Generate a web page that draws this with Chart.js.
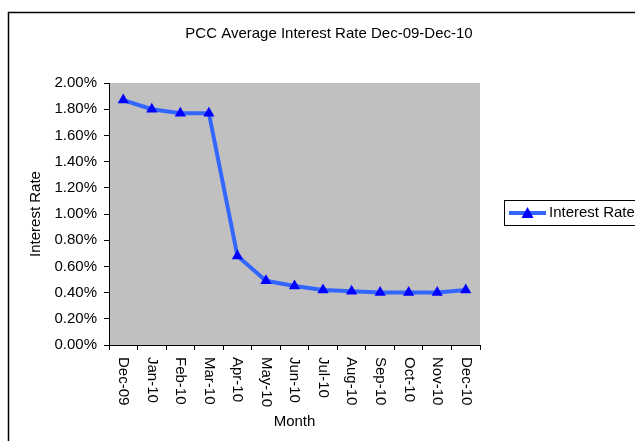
<!DOCTYPE html>
<html>
<head>
<meta charset="utf-8">
<script src="https://cdn.jsdelivr.net/npm/chart.js@4.4.0/dist/chart.umd.min.js"></script>
<style>
  html, body { margin: 0; padding: 0; background: #fff; overflow: hidden; }
  #wrap { width: 635px; height: 441px; }
</style>
</head>
<body>
<div id="wrap"><canvas id="rate" width="635" height="441"></canvas></div>
<script>
var months = ['Dec-09', 'Jan-10', 'Feb-10', 'Mar-10', 'Apr-10', 'May-10', 'Jun-10',
              'Jul-10', 'Aug-10', 'Sep-10', 'Oct-10', 'Nov-10', 'Dec-10'];
var rates = [1.87, 1.80, 1.77, 1.77, 0.68, 0.49, 0.45, 0.42, 0.41, 0.40, 0.40, 0.40, 0.42];
var yTicks = [0, 0.2, 0.4, 0.6, 0.8, 1.0, 1.2, 1.4, 1.6, 1.8, 2.0];

var font = 'Liberation Sans, Arial, sans-serif';
Chart.defaults.font.family = font;
Chart.defaults.font.size = 15;
Chart.defaults.color = '#000';

// frame, title, rotated month labels and legend box
var extras = {
    id: 'extras',
    beforeDraw: function (chart) {
        var c = chart.ctx, a = chart.chartArea;
        c.save();
        c.fillStyle = '#c0c0c0';
        c.fillRect(a.left, a.top, a.right - a.left, a.bottom - a.top);
        c.restore();
    },
    afterDraw: function (chart) {
        var c = chart.ctx;
        c.save();
        c.strokeStyle = '#000';
        c.lineWidth = 1.5;
        c.strokeRect(8.5, 12.5, 700, 500);

        c.fillStyle = '#000';
        c.font = '15px ' + font;
        c.textAlign = 'center';
        c.textBaseline = 'middle';
        c.fillText('PCC Average Interest Rate Dec-09-Dec-10', 329, 34);

        var x = chart.scales.x;
        c.textAlign = 'left';
        months.forEach(function (m, i) {
            c.save();
            c.translate(x.getPixelForValue(i), 357);
            c.rotate(Math.PI / 2);
            c.fillText(m, 0, 0);
            c.restore();
        });

        c.lineWidth = 1;
        c.strokeRect(504.5, 200.5, 200, 25);
        c.strokeStyle = '#3366ff';
        c.lineWidth = 4;
        c.beginPath();
        c.moveTo(509, 213);
        c.lineTo(546, 213);
        c.stroke();
        c.fillStyle = '#0000ff';
        c.beginPath();
        c.moveTo(527.5, 207);
        c.lineTo(533.5, 218);
        c.lineTo(521.5, 218);
        c.closePath();
        c.fill();
        c.fillStyle = '#000';
        c.fillText('Interest Rate', 549, 213);
        c.restore();
    }
};

new Chart(document.getElementById('rate'), {
    type: 'line',
    data: {
        labels: months,
        datasets: [{
            label: 'Interest Rate',
            data: rates,
            borderColor: '#3366ff',
            borderWidth: 4,
            pointStyle: 'triangle',
            pointRadius: 6.5,
            pointHoverRadius: 6.5,
            pointBackgroundColor: '#0000ff',
            pointBorderColor: '#0000ff',
            pointBorderWidth: 0,
            tension: 0
        }]
    },
    options: {
        responsive: false,
        animation: false,
        layout: { padding: { top: 83, right: 155, left: 0, bottom: 0 } },
        plugins: { legend: { display: false }, tooltip: { enabled: false } },
        scales: {
            x: {
                offset: true,
                afterFit: function (s) { s.height = 96; },
                border: { color: '#000', width: 1 },
                grid: { offset: true, drawOnChartArea: false, tickLength: 5, color: '#000' },
                ticks: { display: false },
                title: { display: true, text: 'Month', padding: { top: 0, bottom: 10 } }
            },
            y: {
                min: 0,
                max: 2,
                afterFit: function (s) { s.width = 109; },
                afterBuildTicks: function (s) { s.ticks = yTicks.map(function (v) { return { value: v }; }); },
                border: { color: '#000', width: 1 },
                grid: { drawOnChartArea: false, tickLength: 5, color: '#000' },
                ticks: {
                    padding: 7,
                    callback: function (v) { return v.toFixed(2) + '%'; }
                },
                title: { display: true, text: 'Interest Rate', padding: { top: 27, bottom: 0 } }
            }
        }
    },
    plugins: [extras]
});
</script>
</body>
</html>
